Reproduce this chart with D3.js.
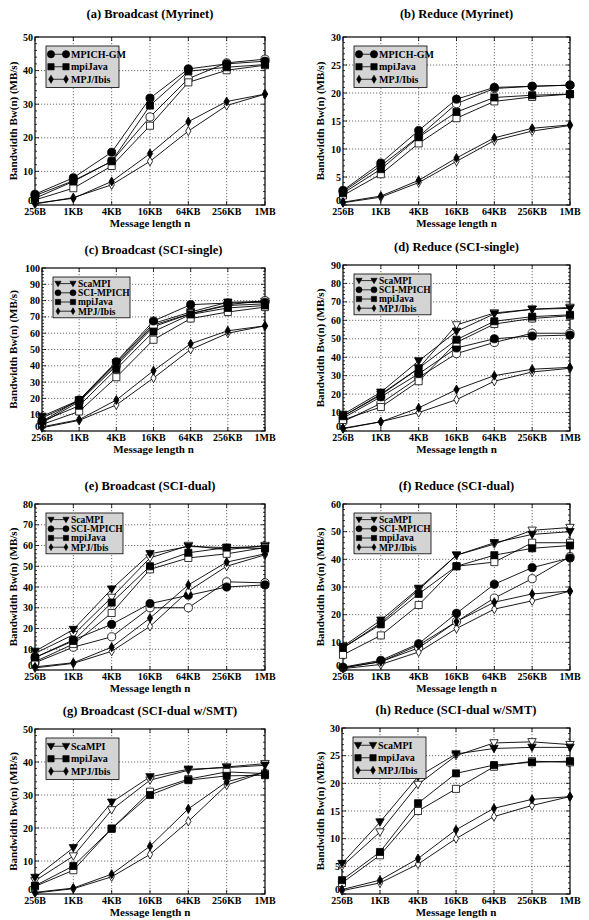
<!DOCTYPE html>
<html lang="en">
<head>
<meta charset="utf-8">
<title>collective bandwidth</title>
<script src="https://d3js.org/d3.v7.min.js"></script>
<style>
  body{margin:0;background:#fff;}
  svg text{font-family:"Liberation Serif","Times New Roman",serif;font-weight:bold;fill:#000;}
</style>
</head>
<body>
<div id="chart"></div>
<script>
// message sizes on the x axis
var cats = ["256B","1KB","4KB","16KB","64KB","256KB","1MB"]

// (a) Broadcast (Myrinet) -- filled / open marker runs
var aMpich   = [3.2, 8.1, 15.7, 31.8, 40.5, 42.0, 42.8]
var aMpichO  = [2.8, 7.2, 13.0, 26.2, 37.6, 42.3, 43.4]
var aJava    = [2.0, 7.0, 13.0, 29.6, 39.8, 41.0, 41.8]
var aJavaO   = [1.5, 5.0, 11.6, 23.6, 36.5, 40.1, 41.6]
var aIbis    = [0.5, 2.0, 7.0, 15.3, 24.8, 30.8, 33.0]
var aIbisO   = [0.3, 2.2, 6.0, 13.0, 22.0, 29.6, 33.0]

// (b) Reduce (Myrinet)
var bMpich   = [2.6, 7.5, 13.3, 18.9, 21.0, 21.2, 21.4]
var bMpichO  = [2.4, 7.0, 12.2, 18.1, 20.8, 21.2, 21.4]
var bJava    = [2.1, 6.4, 12.1, 16.6, 19.2, 19.6, 19.8]
var bJavaO   = [1.7, 5.5, 11.0, 15.5, 18.5, 19.3, 19.8]
var bIbis    = [0.5, 1.6, 4.4, 8.4, 12.0, 13.7, 14.3]
var bIbisO   = [0.4, 1.4, 4.0, 7.8, 11.5, 13.2, 14.2]

// (c) Broadcast (SCI-single)
var cSca     = [9, 19, 42, 66, 73, 79, 79.5]
var cScaO    = [8, 18.5, 41, 65, 72, 77, 78]
var cMpich   = [6, 19, 42.5, 67.5, 77.5, 78.5, 79]
var cMpichO  = [5, 18, 40, 64, 72, 77.5, 80]
var cJava    = [6, 15.5, 38, 61, 71.5, 75.5, 77]
var cJavaO   = [4, 12, 33, 56, 69, 73, 76]
var cIbis    = [2.5, 7, 19, 37, 53.5, 61.5, 64.5]
var cIbisO   = [2, 6.5, 16, 32.5, 50, 60, 64.5]

// (d) Reduce (SCI-single)
var dSca     = [9, 21, 38, 54, 63.5, 66, 66.5]
var dScaO    = [8, 20, 34, 57.5, 64, 66, 67]
var dMpich   = [7, 18.5, 31, 45, 50, 51.5, 52]
var dMpichO  = [5, 15, 29, 42, 48, 53, 53]
var dJava    = [8, 19.5, 34, 49.5, 59.5, 62, 63]
var dJavaO   = [6, 13, 27, 48, 58, 61, 62.5]
var dIbis    = [1.5, 5, 12.5, 22.5, 30, 33.5, 34.5]
var dIbisO   = [1.2, 5, 10, 17, 27, 32, 34]

// (e) Broadcast (SCI-dual)
var eSca     = [9, 19.5, 39, 56, 59.5, 59, 59.5]
var eScaO    = [8, 17, 35, 54, 60, 58, 60]
var eMpich   = [6, 14.5, 22, 32, 36, 40, 41]
var eMpichO  = [3.5, 11, 16, 30, 30, 42.5, 42]
var eJava    = [6, 14, 32.5, 50, 56.5, 59, 58.5]
var eJavaO   = [4, 12.5, 27.5, 48.5, 54, 56, 59]
var eIbis    = [1.5, 3.5, 11, 25, 41, 52, 56]
var eIbisO   = [1, 3.2, 9, 21, 38, 50, 55.5]

// (f) Reduce (SCI-dual)
var fSca     = [8.5, 18, 29.5, 41.5, 46, 49, 50]
var fScaO    = [8, 17, 29, 41.5, 45.5, 50.5, 51.5]
var fMpich   = [1, 3.5, 9.5, 20.5, 31, 37, 40.5]
var fMpichO  = [0.8, 3, 8, 17.5, 26, 33, 41]
var fJava    = [8, 16.5, 27.5, 37.5, 41.5, 44, 45]
var fJavaO   = [5.5, 12.5, 23.5, 37.5, 39, 46, 46]
var fIbis    = [0.8, 3, 9, 17.5, 24.5, 27.5, 28.5]
var fIbisO   = [0.5, 2, 6.5, 15, 22, 25, 28.5]

// (g) Broadcast (SCI-dual w/SMT)
var gSca     = [5, 14, 27.8, 35.5, 37.8, 38.3, 39]
var gScaO    = [4, 11.5, 25.5, 34.5, 37.5, 38.5, 39.5]
var gJava    = [2.5, 8.5, 19.8, 30, 34.5, 35.8, 36]
var gJavaO   = [2.3, 7.2, 19.8, 31, 34.8, 37, 36.5]
var gIbis    = [0.5, 1.8, 6, 14.5, 25.8, 34, 37]
var gIbisO   = [0.3, 1.6, 5.2, 12, 22, 33, 37]

// (h) Reduce (SCI-dual w/SMT)
var hSca     = [5.5, 13, 21.2, 25.3, 26.3, 26.5, 26.5]
var hScaO    = [5, 11.2, 19.8, 25, 27.3, 27.5, 27]
var hJava    = [2.5, 7.6, 16.4, 21.8, 23.3, 23.8, 24]
var hJavaO   = [2, 7, 15, 19, 23, 24, 23.8]
var hIbis    = [0.8, 2.5, 6.4, 11.6, 15.5, 17.1, 17.6]
var hIbisO   = [0.6, 2, 5.4, 10, 14, 16, 17.6]

// y axis ranges [max, step]
var yA = [50, 10], yB = [30, 5], yC = [100, 10], yD = [90, 10]
var yE = [80, 10], yF = [60, 10], yG = [50, 10], yH = [30, 5]

var W = 589, H = 920

function ser(name, sym, f, o){ return {name:name, sym:sym, filled:f, open:o} }

// box = [left, top, right, bottom], tOff = title distance above plot
var panels = [
  {title:"(a) Broadcast (Myrinet)", box:[35,37,265,205], tOff:19, y:yA,
   series:[ser("MPICH-GM","circle",aMpich,aMpichO), ser("mpiJava","square",aJava,aJavaO), ser("MPJ/Ibis","diamond",aIbis,aIbisO)]},
  {title:"(b) Reduce (Myrinet)", box:[343,37,570,205], tOff:19, y:yB,
   series:[ser("MPICH-GM","circle",bMpich,bMpichO), ser("mpiJava","square",bJava,bJavaO), ser("MPJ/Ibis","diamond",bIbis,bIbisO)]},
  {title:"(c) Broadcast (SCI-single)", box:[42,268,265,431], tOff:14, y:yC,
   series:[ser("ScaMPI","tri",cSca,cScaO), ser("SCI-MPICH","circle",cMpich,cMpichO), ser("mpiJava","square",cJava,cJavaO), ser("MPJ/Ibis","diamond",cIbis,cIbisO)]},
  {title:"(d) Reduce (SCI-single)", box:[343,265,570,431], tOff:14, y:yD,
   series:[ser("ScaMPI","tri",dSca,dScaO), ser("SCI-MPICH","circle",dMpich,dMpichO), ser("mpiJava","square",dJava,dJavaO), ser("MPJ/Ibis","diamond",dIbis,dIbisO)]},
  {title:"(e) Broadcast (SCI-dual)", box:[35,504,265,670], tOff:14, y:yE,
   series:[ser("ScaMPI","tri",eSca,eScaO), ser("SCI-MPICH","circle",eMpich,eMpichO), ser("mpiJava","square",eJava,eJavaO), ser("MPJ/Ibis","diamond",eIbis,eIbisO)]},
  {title:"(f) Reduce (SCI-dual)", box:[343,504,570,670], tOff:14, y:yF,
   series:[ser("ScaMPI","tri",fSca,fScaO), ser("SCI-MPICH","circle",fMpich,fMpichO), ser("mpiJava","square",fJava,fJavaO), ser("MPJ/Ibis","diamond",fIbis,fIbisO)]},
  {title:"(g) Broadcast (SCI-dual w/SMT)", box:[35,729,265,894], tOff:14, y:yG,
   series:[ser("ScaMPI","tri",gSca,gScaO), ser("mpiJava","square",gJava,gJavaO), ser("MPJ/Ibis","diamond",gIbis,gIbisO)]},
  {title:"(h) Reduce (SCI-dual w/SMT)", box:[342,728,570,894], tOff:14, y:yH,
   series:[ser("ScaMPI","tri",hSca,hScaO), ser("mpiJava","square",hJava,hJavaO), ser("MPJ/Ibis","diamond",hIbis,hIbisO)]}
]

var svg = d3.select("#chart").append("svg").attr("width",W).attr("height",H)
svg.append("rect").attr("width",W).attr("height",H).attr("fill","#fff")

function symPath(sym, k){
  k = k || 1
  if(sym=="circle") return d3.symbol().type(d3.symbolCircle).size(52*k)()
  if(sym=="square") return d3.symbol().type(d3.symbolSquare).size(50*k)()
  if(sym=="diamond") return d3.symbol().type(d3.symbolDiamond).size(24*k)()
  // downward triangle
  var s = Math.sqrt(k)
  return "M"+(-4.2*s)+","+(-3.2*s)+"L"+(4.2*s)+","+(-3.2*s)+"L0,"+(4.2*s)+"Z"
}

panels.forEach(function(p, pi){
  var x0=p.box[0], y0=p.box[1], x1=p.box[2], y1=p.box[3]
  var g = svg.append("g")
  var x = d3.scalePoint().domain(cats).range([x0,x1])
  var y = d3.scaleLinear().domain([0,p.y[0]]).range([y1,y0])
  var major = d3.range(0, p.y[0]+0.001, p.y[1])
  var minor = d3.range(0, p.y[0]+0.001, p.y[1]/5)

  // dotted grid
  g.selectAll(".hg").data(major.slice(1,-1)).enter().append("line")
    .attr("x1",x0).attr("x2",x1).attr("y1",d=>y(d)).attr("y2",d=>y(d))
    .attr("stroke","#333").attr("stroke-width",0.7).attr("stroke-dasharray","1.2,1.8")
  g.selectAll(".vg").data(cats.slice(1,-1)).enter().append("line")
    .attr("x1",d=>x(d)).attr("x2",d=>x(d)).attr("y1",y0).attr("y2",y1)
    .attr("stroke","#333").attr("stroke-width",0.7).attr("stroke-dasharray","1.2,1.8")

  // ticks inside the frame
  g.selectAll(".mt").data(minor).enter().append("path")
    .attr("d",function(d){
      var big = Math.abs(d/p.y[1]-Math.round(d/p.y[1]))<1e-6
      var l = big?4:2
      return "M"+x0+","+y(d)+"h"+l+"M"+x1+","+y(d)+"h"+(-l)
    })
    .attr("stroke","#000").attr("stroke-width",0.8)
  g.selectAll(".xt").data(cats).enter().append("path")
    .attr("d",d=>"M"+x(d)+","+y1+"v-4M"+x(d)+","+y0+"v4")
    .attr("stroke","#000").attr("stroke-width",0.8)

  // frame
  g.append("rect").attr("x",x0).attr("y",y0).attr("width",x1-x0).attr("height",y1-y0)
    .attr("fill","none").attr("stroke","#000").attr("stroke-width",1.2)

  // tick labels ("0" lifted so it sits above 256B)
  g.selectAll(".yl").data(major).enter().append("text")
    .attr("x",x0-2).attr("y",d=>y(d)+(d==0?-1.5:3.5)).attr("text-anchor","end")
    .attr("font-size",10).text(d=>d)
  g.selectAll(".xl").data(cats).enter().append("text")
    .attr("x",d=>x(d)).attr("y",y1+10).attr("text-anchor","middle")
    .attr("font-size",10).text(d=>d)

  // axis titles
  var yLabX = pi%2==0 ? 17 : 324
  g.append("text").attr("x",(x0+x1)/2).attr("y",y1+22).attr("text-anchor","middle")
    .attr("font-size",11).text("Message length n")
  g.append("text").attr("transform","translate("+yLabX+","+((y0+y1)/2)+") rotate(-90)")
    .attr("text-anchor","middle").attr("font-size",11).text("Bandwidth Bw(n) (MB/s)")
  g.append("text").attr("x",(x0+x1)/2).attr("y",y0-p.tOff).attr("text-anchor","middle")
    .attr("font-size",12.5).text(p.title)

  var line = d3.line().x((d,i)=>x(cats[i])).y(d=>y(d))

  // lines first, markers on top
  p.series.forEach(function(s){
    ["open","filled"].forEach(function(k){
      g.append("path").datum(s[k]).attr("d",line)
        .attr("fill","none").attr("stroke","#000").attr("stroke-width",0.9)
    })
  })
  p.series.forEach(function(s){
    ["open","filled"].forEach(function(k){
      g.selectAll(null).data(s[k]).enter().append("path")
        .attr("d",symPath(s.sym))
        .attr("transform",(d,i)=>"translate("+x(cats[i])+","+y(d)+")")
        .attr("fill",k=="filled"?"#000":"#fff")
        .attr("stroke","#000").attr("stroke-width",0.8)
    })
  })

  // legend
  var n = p.series.length
  var rowH = n==3 ? 12.5 : 9.2
  var lx = x0+11, ly = y0+9
  var lw = n==3 ? 73 : 77
  var mk = n==3 ? 0.8 : 0.55
  var leg = g.append("g")
  leg.append("rect").attr("x",lx).attr("y",ly).attr("width",lw).attr("height",n*rowH+4)
    .attr("fill","#d4d4d4").attr("stroke","#000").attr("stroke-width",0.8)
  p.series.forEach(function(s,i){
    var cy = ly+2+rowH*(i+0.5)
    leg.append("line").attr("x1",lx+5).attr("x2",lx+20).attr("y1",cy).attr("y2",cy)
      .attr("stroke","#000").attr("stroke-width",0.8)
    ;[lx+5,lx+20].forEach(function(cx){
      leg.append("path").attr("d",symPath(s.sym,mk)).attr("transform","translate("+cx+","+cy+")")
        .attr("fill","#000").attr("stroke","#000").attr("stroke-width",0.6)
    })
    leg.append("text").attr("x",lx+25).attr("y",cy+3.3).attr("font-size",n==3?10:9.5).text(s.name)
  })
})
</script>
</body>
</html>
